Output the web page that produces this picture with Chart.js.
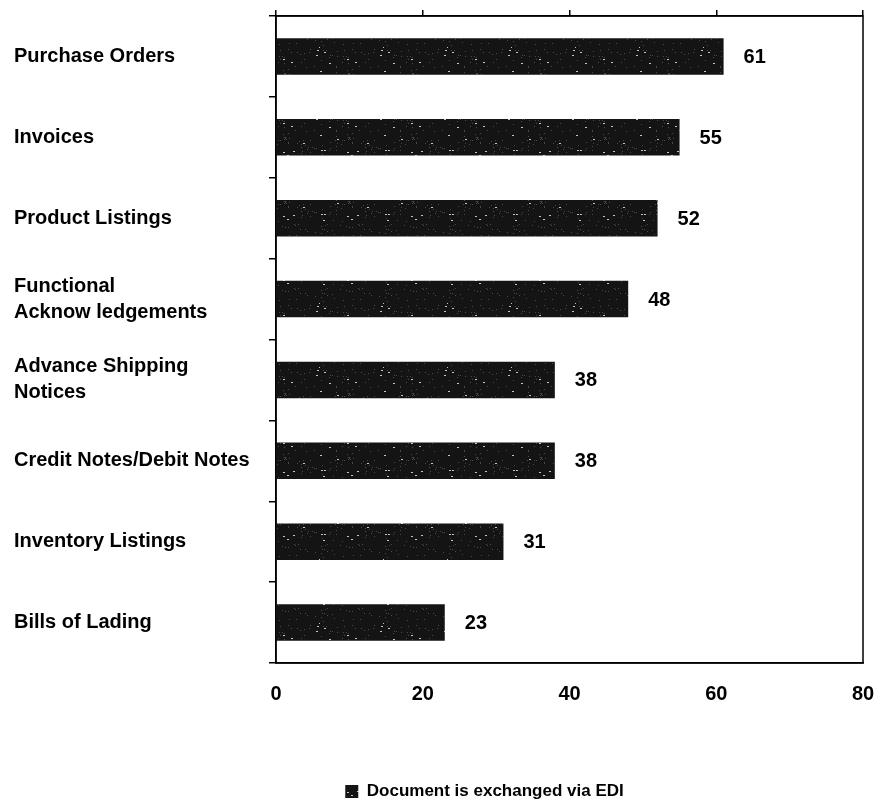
<!DOCTYPE html>
<html>
<head>
<meta charset="utf-8">
<script src="https://cdn.jsdelivr.net/npm/chart.js@4.4.0/dist/chart.umd.min.js"></script>
<style>
  html, body { margin: 0; padding: 0; background: #fff; }
</style>
</head>
<body>
<canvas id="ediChart" width="879" height="803"></canvas>
<script>
// --- DATA ---
const categories = [
  'Purchase Orders',
  'Invoices',
  'Product Listings',
  ['Functional', 'Acknow ledgements'],
  ['Advance Shipping', 'Notices'],
  'Credit Notes/Debit Notes',
  'Inventory Listings',
  'Bills of Lading'
];
const ediShare = [61, 55, 52, 48, 38, 38, 31, 23];
const xMin = 0, xMax = 80, xStep = 20;
const seriesName = 'Document is exchanged via EDI';

const FONT = "'Liberation Sans', Arial, sans-serif";

// dark grainy fill for the bars (fixed seed so it looks the same every load)
function grainPattern() {
    const c = document.createElement('canvas');
    c.width = 64; c.height = 64;
    const g = c.getContext('2d');
    g.fillStyle = '#141414';
    g.fillRect(0, 0, 64, 64);
    let s = 17;
    const next = () => { s = (Math.imul(s, 1103515245) + 12345) >>> 0; return s >>> 8; };
    for (let i = 0; i < 110; i++) {
        const x = next() % 64, y = next() % 64;
        g.fillStyle = i % 7 === 0 ? '#c8c8c8' : '#4a4a4a';
        g.fillRect(x, y, i % 7 === 0 ? 2 : 1, 1);
    }
    return g.createPattern(c, 'repeat');
}

// value printed just right of each bar
const valueLabels = {
    id: 'valueLabels',
    afterDatasetsDraw(chart) {
        const ctx = chart.ctx;
        const meta = chart.getDatasetMeta(0);
        ctx.save();
        ctx.font = 'bold 20px ' + FONT;
        ctx.fillStyle = '#000';
        ctx.textAlign = 'left';
        ctx.textBaseline = 'middle';
        meta.data.forEach((bar, i) => {
            ctx.fillText(String(ediShare[i]), bar.x + 20, bar.y + 1);
        });
        ctx.restore();
    }
};

// box round the plot area
const frame = {
    id: 'frame',
    afterDraw(chart) {
        const a = chart.chartArea;
        const ctx = chart.ctx;
        ctx.save();
        ctx.strokeStyle = '#000';
        ctx.lineWidth = 1.5;
        ctx.strokeRect(a.left, a.top, a.right - a.left, a.bottom - a.top);
        ctx.restore();
    }
};

// legend sits a bit right of the page centre and low on the page
const legendShift = {
    id: 'legendShift',
    afterLayout(chart) {
        const lg = chart.legend;
        lg.left += 46;
        lg.right += 46;
        lg.top += 7;
        lg.bottom += 7;
    }
};

const ctx = document.getElementById('ediChart').getContext('2d');
const ediChart = new Chart(ctx, {
    type: 'bar',
    data: {
        labels: categories,
        datasets: [{
            label: seriesName,
            data: ediShare,
            backgroundColor: grainPattern(),
            borderWidth: 0,
            categoryPercentage: 1,
            barPercentage: 0.45
        }]
    },
    options: {
        indexAxis: 'y',
        responsive: false,
        animation: false,
        layout: { padding: { top: 9, left: 14, right: 16, bottom: 0 } },
        scales: {
            x: {
                position: 'bottom',
                min: xMin, max: xMax,
                ticks: { stepSize: xStep, color: '#000', font: { family: FONT, size: 20, weight: 'bold' }, padding: 0 },
                // invisible tick marks just push the labels down
                grid: { drawOnChartArea: false, drawTicks: true, tickLength: 19, color: 'rgba(0,0,0,0)' },
                border: { color: '#000', width: 1.5 },
                afterFit(scale) { scale.height = 108; }
            },
            xTop: {
                type: 'linear',
                position: 'top',
                min: xMin, max: xMax,
                ticks: { display: false, stepSize: xStep },
                grid: { drawOnChartArea: false, drawTicks: true, tickLength: 6, color: '#000', lineWidth: 1.5 },
                border: { color: '#000', width: 1.5 }
            },
            y: {
                position: 'left',
                offset: true,
                ticks: {
                    crossAlign: 'far',
                    color: '#000',
                    font: { family: FONT, size: 20, weight: 'bold', lineHeight: 1.3 }
                },
                grid: { offset: true, drawOnChartArea: false, tickLength: 7, color: '#000', lineWidth: 1.5 },
                border: { color: '#000', width: 1.5 },
                afterFit(scale) { scale.width = 262; }
            }
        },
        plugins: {
            legend: {
                position: 'bottom',
                labels: {
                    boxWidth: 13, boxHeight: 13,
                    color: '#000',
                    padding: 5,
                    font: { family: FONT, size: 17, weight: 'bold' }
                }
            },
            tooltip: { enabled: false }
        }
    },
    plugins: [valueLabels, frame, legendShift]
});
</script>
</body>
</html>
